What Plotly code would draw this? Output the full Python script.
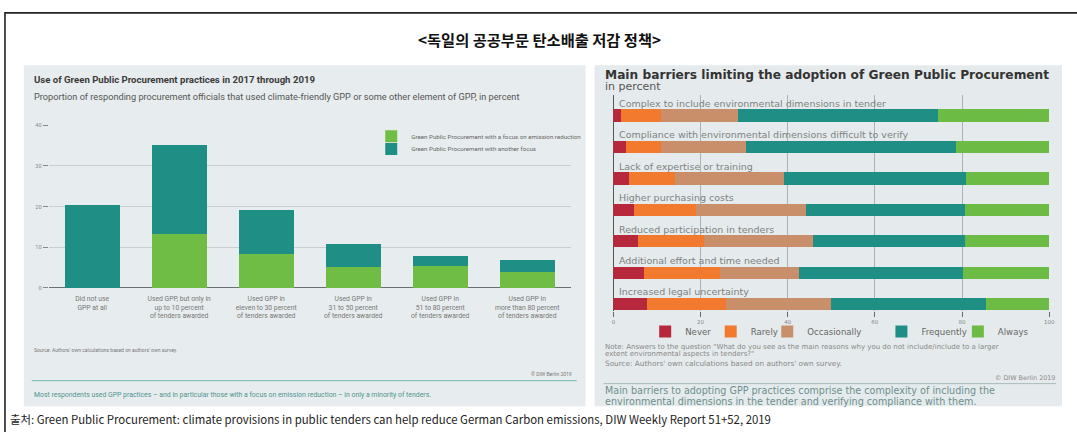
import plotly.graph_objects as go

W, H = 1077, 432
def fx(px): return px / W
def fy(py): return 1 - py / H

# ---------------- data: left chart ----------------
gpp_categories = [
    "Did not use<br>GPP at all",
    "Used GPP, but only in<br>up to 10 percent<br>of tenders awarded",
    "Used GPP in<br>eleven to 30 percent<br>of tenders awarded",
    "Used GPP in<br>31 to 50 percent<br>of tenders awarded",
    "Used GPP in<br>51 to 80 percent<br>of tenders awarded",
    "Used GPP in<br>more than 80 percent<br>of tenders awarded",
]
gpp_emission_focus = [0.0, 13.3, 8.3, 5.2, 5.4, 4.0]
gpp_other_focus = [20.4, 21.8, 10.9, 5.5, 2.4, 3.0]
gpp_series_names = [
    "Green Public Procurement with a focus on emission reduction",
    "Green Public Procurement with another focus",
]
gpp_yticks = [0, 10, 20, 30, 40]

# ---------------- data: right chart ----------------
barrier_categories = [
    "Complex to include environmental dimensions in tender",
    "Compliance with environmental dimensions difficult to verify",
    "Lack of expertise or training",
    "Higher purchasing costs",
    "Reduced participation in tenders",
    "Additional effort and time needed",
    "Increased legal uncertainty",
]
never = [1.7, 3.0, 3.6, 4.7, 5.6, 7.1, 7.7]
rarely = [9.3, 8.0, 10.6, 14.2, 15.1, 17.3, 18.1]
occasionally = [17.6, 19.4, 24.9, 25.4, 25.0, 18.3, 24.2]
frequently = [45.8, 48.3, 41.8, 36.3, 34.9, 37.6, 35.6]
always = [25.6, 21.3, 19.1, 19.4, 19.4, 19.7, 14.4]
barrier_series_names = ["Never", "Rarely", "Occasionally", "Frequently", "Always"]
barrier_xticks = [0, 20, 40, 60, 80, 100]

GREEN = "#6fbd45"
TEAL = "#1f8f86"
barrier_colors = ["#b8283c", "#f27a2f", "#c98f6b", "#1f8f86", "#6cbb45"]

NARROW = "Liberation Sans Narrow, Arial Narrow, Roboto, sans-serif"
WIDE = "DejaVu Sans, Verdana, sans-serif"

fig = go.Figure()

# left chart traces (each in its own legend so the two entries sit close together)
fig.add_trace(go.Bar(x=gpp_categories, y=gpp_emission_focus, name=gpp_series_names[0],
                     marker=dict(color=GREEN, line=dict(width=0)), xaxis="x", yaxis="y",
                     legend="legend"))
fig.add_trace(go.Bar(x=gpp_categories, y=gpp_other_focus, name=gpp_series_names[1],
                     marker=dict(color=TEAL, line=dict(width=0)), xaxis="x", yaxis="y",
                     legend="legend2"))

# right chart traces, one legend per entry for exact spacing
right_legend_ids = ["legend3", "legend4", "legend5", "legend6", "legend7"]
for name, vals, col, lg in zip(barrier_series_names,
                               [never, rarely, occasionally, frequently, always],
                               barrier_colors, right_legend_ids):
    fig.add_trace(go.Bar(y=barrier_categories, x=vals, name=name, orientation="h",
                         marker=dict(color=col, line=dict(width=0)), width=0.39,
                         xaxis="x2", yaxis="y2", legend=lg))

shapes = [
    dict(type="rect", xref="paper", yref="paper", x0=fx(3), x1=fx(1090), y0=fy(450), y1=fy(10),
         line=dict(color="#222", width=1.6), fillcolor="rgba(0,0,0,0)", layer="below"),
    dict(type="rect", xref="paper", yref="paper", x0=fx(22), x1=fx(588), y0=fy(409), y1=fy(63),
         line=dict(width=0), fillcolor="#e7edee", layer="below"),
    dict(type="rect", xref="paper", yref="paper", x0=fx(597), x1=fx(1068), y0=fy(409), y1=fy(63),
         line=dict(width=0), fillcolor="#e5ebec", layer="below"),
    dict(type="line", xref="paper", yref="paper", x0=fx(30), x1=fx(579), y0=fy(383), y1=fy(383),
         line=dict(color="#8fc3bf", width=1.2)),
    dict(type="line", xref="paper", yref="paper", x0=fx(606), x1=fx(1062), y0=fy(386), y1=fy(386),
         line=dict(color="#a9b9bb", width=1)),
]

ann = []
def txt(x, y, s, size, color="#333", font=NARROW, anchor="left", bold=False, yanchor="middle"):
    ann.append(dict(xref="paper", yref="paper", x=fx(x), y=fy(y), text=("<b>%s</b>" % s) if bold else s,
                    showarrow=False, xanchor=anchor, yanchor=yanchor,
                    font=dict(size=size, color=color, family=font)))

txt(542, 36, "<독일의 공공부문 탄소배출 저감 정책>", 15.3, "#111", "Noto Sans CJK KR", "center", bold=True)
txt(6, 422, "출처: Green Public Procurement: climate provisions in public tenders can help reduce German Carbon emissions, DIW Weekly Report 51+52, 2019",
    11.4, "#222", "Noto Sans CJK KR")

# left panel texts
txt(30, 78, "Use of Green Public Procurement practices in 2017 through 2019", 9.6, "#3a3a3a", bold=True)
txt(30, 95, "Proportion of responding procurement officials that used climate-friendly GPP or some other element of GPP, in percent", 9.2, "#555")
txt(30, 352, "Source: Authors' own calculations based on authors' own survey.", 5.0, "#777")
txt(576, 376, "© DIW Berlin 2019", 5.0, "#777", anchor="right")
txt(30, 398, "Most respondents used GPP practices – and in particular those with a focus on emission reduction – in only a minority of tenders.",
    6.9, "#4f948f")

# right panel texts
txt(606, 73, "Main barriers limiting the adoption of Green Public Procurement", 12.2, "#333", WIDE, bold=True)
txt(606, 85, "in percent", 11, "#555", WIDE)
txt(606, 348.5, "Note: Answers to the question \"What do you see as the main reasons why you do not include/include to a larger", 7.0, "#888", WIDE)
txt(606, 356, "extent environmental aspects in tenders?\"", 7.0, "#888", WIDE)
txt(606, 366, "Source: Authors' own calculations based on authors' own survey.", 7.3, "#888", WIDE)
txt(1063, 380, "© DIW Berlin 2019", 6.4, "#888", WIDE, anchor="right")
txt(606, 393, "Main barriers to adopting GPP practices comprise the complexity of including the", 9.6, "#6d8e8e", WIDE)
txt(606, 404.5, "environmental dimensions in the tender and verifying compliance with them.", 9.6, "#6d8e8e", WIDE)

for i, lab in enumerate(barrier_categories):
    ann.append(dict(xref="x2", yref="y2", x=0, y=i - 0.39, text=lab, showarrow=False,
                    xanchor="left", yanchor="middle", xshift=4,
                    font=dict(size=9.5, color="#7d8283", family=WIDE)))

legend_common = dict(bgcolor="rgba(0,0,0,0)", xanchor="left", yanchor="middle",
                     orientation="v", itemwidth=30, borderwidth=0)
lay_legends = {
    "legend": dict(legend_common, x=fx(372), y=fy(135), font=dict(size=6.2, color="#666", family=NARROW)),
    "legend2": dict(legend_common, x=fx(372), y=fy(148), font=dict(size=6.2, color="#666", family=NARROW)),
}
right_swatch_centers = [667, 733, 790, 905, 982]
for lg, cx in zip(right_legend_ids, right_swatch_centers):
    lay_legends[lg] = dict(legend_common, x=fx(cx - 19), y=fy(333),
                           font=dict(size=8.6, color="#666", family=WIDE))

fig.update_layout(
    width=W, height=H, autosize=False,
    margin=dict(l=0, r=0, t=0, b=0, pad=0),
    paper_bgcolor="white", plot_bgcolor="rgba(0,0,0,0)",
    barmode="stack", bargap=0.37,
    showlegend=True,
    shapes=shapes, annotations=ann,
    xaxis=dict(domain=[fx(47), fx(573)], anchor="y", type="category", showgrid=False,
               showline=False, ticks="", tickfont=dict(size=6.8, color="#777", family=NARROW),
               tickangle=0, ticklabelstandoff=5, fixedrange=True),
    yaxis=dict(domain=[fy(289), fy(124)], anchor="x", range=[0, 40], tickvals=gpp_yticks,
               showgrid=True, gridcolor="#c6ced0", gridwidth=1,
               zeroline=True, zerolinecolor="#6b6f70", zerolinewidth=1.2,
               ticks="outside", ticklen=5, tickcolor="#888", tickwidth=1,
               tickfont=dict(size=5.5, color="#888", family=NARROW), showline=False),
    xaxis2=dict(domain=[fx(616), fx(1055)], anchor="y2", range=[0, 100], tickvals=barrier_xticks,
                showgrid=True, gridcolor="#a9b4b8", gridwidth=1,
                zeroline=True, zerolinecolor="#555", zerolinewidth=1.2,
                ticks="outside", ticklen=5, tickcolor="#666",
                tickfont=dict(size=5.5, color="#888", family=WIDE), showline=False),
    yaxis2=dict(domain=[fy(312.5), fy(93)], anchor="x2", type="category",
                categoryorder="array", categoryarray=barrier_categories,
                range=[6.22, -0.66], showgrid=False, showticklabels=False, zeroline=False,
                showline=False, ticks=""),
    **lay_legends,
)

fig.write_html("out.html", config={"displayModeBar": False},
               post_script="document.body.style.margin='0';document.body.style.overflow='hidden';")
